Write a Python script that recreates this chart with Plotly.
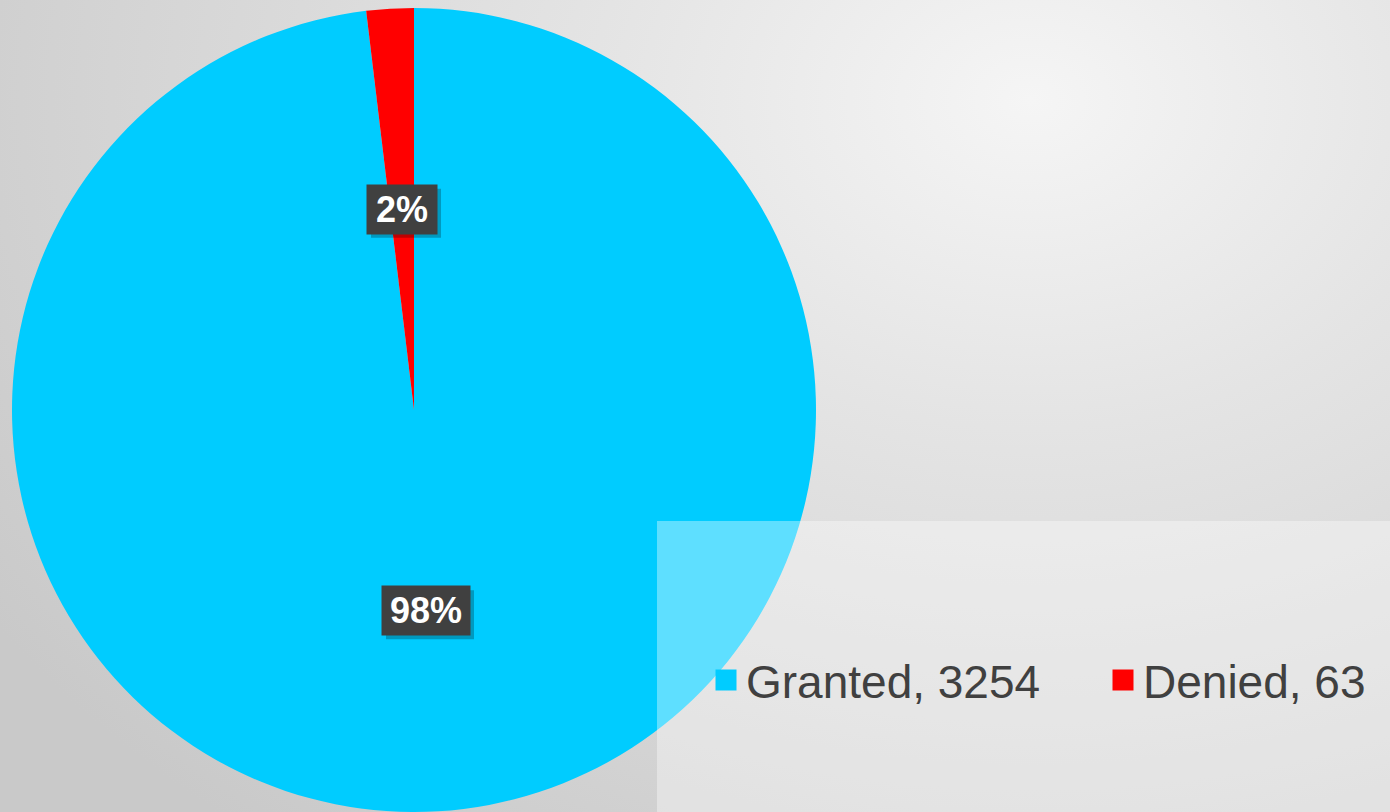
import math
import base64
import plotly.graph_objects as go

# ---- data ----
categories = ["Granted", "Denied"]
values = [3254, 63]
colors = ["#00CCFF", "#FF0000"]

W, H = 1390, 812

# pie geometry (pixels)
dom_x = [11 / W, 817 / W]
dom_y = [0.0, 1 - 8 / H]
cx_px = (dom_x[0] + dom_x[1]) / 2 * W
cy_px = H - (dom_y[0] + dom_y[1]) / 2 * H
r_px = min((dom_x[1] - dom_x[0]) * W, (dom_y[1] - dom_y[0]) * H) / 2

legend_labels = [f"{c}, {v}" for c, v in zip(categories, values)]

fig = go.Figure()
fig.add_trace(go.Pie(
    labels=legend_labels,
    values=values,
    marker=dict(colors=colors, line=dict(width=0)),
    sort=False,
    direction="clockwise",
    rotation=0,
    textinfo="none",
    domain=dict(x=dom_x, y=dom_y),
    showlegend=False,
))

# legend entries (larger square markers than the pie's fixed legend symbol)
for lab, col in zip(legend_labels, colors):
    fig.add_trace(go.Scatter(
        x=[None], y=[None], mode="markers", name=lab,
        marker=dict(symbol="square", size=18, color=col,
                    line=dict(width=6, color=col)),
        showlegend=True, hoverinfo="skip",
    ))

# percentage labels placed at mid-angle, half radius
total = sum(values)
cum = 0
annotations = []
shapes = []
for v in values:
    frac_mid = (cum + v / 2) / total
    cum += v
    th = 2 * math.pi * frac_mid
    px = cx_px + 0.5 * r_px * math.sin(th)
    py = cy_px - 0.5 * r_px * math.cos(th)
    txt = f"{round(100 * v / total)}%"
    bw = 34 + 18 * len(txt)
    bh = 49
    # soft shadow behind the label box
    shapes.append(dict(
        type="rect", xref="paper", yref="paper",
        x0=(px - bw / 2 + 4) / W, x1=(px + bw / 2 + 4) / W,
        y0=1 - (py + bh / 2 + 4) / H, y1=1 - (py - bh / 2 + 4) / H,
        fillcolor="rgba(0,0,0,0.25)", line=dict(width=0), layer="above",
    ))
    annotations.append(dict(
        x=px / W, y=1 - py / H, xref="paper", yref="paper",
        xanchor="center", yanchor="middle", showarrow=False,
        text=f"<b>{txt}</b>", width=bw, height=bh, borderpad=0,
        align="center", valign="middle",
        font=dict(family="Liberation Sans, Arial", size=36, color="white"),
        bgcolor="#404040",
    ))

# semi-transparent legend panel
shapes.append(dict(type="rect", xref="paper", yref="paper",
                   x0=657 / W, x1=1, y0=0, y1=1 - 521 / H,
                   fillcolor="rgba(255,255,255,0.37)", line=dict(width=0),
                   layer="above"))

# background radial gradient
svg = f'''<svg xmlns="http://www.w3.org/2000/svg" width="{W}" height="{H}" viewBox="0 0 {W} {H}">
<defs><radialGradient id="g" gradientUnits="userSpaceOnUse" cx="1030" cy="100" r="1250"
 gradientTransform="translate(1030 100) scale(1 0.75) translate(-1030 -100)">
<stop offset="0" stop-color="#f5f5f5"/><stop offset="0.35" stop-color="#e4e4e4"/>
<stop offset="1" stop-color="#c9c9c9"/></radialGradient></defs>
<rect width="{W}" height="{H}" fill="url(#g)"/></svg>'''
src = "data:image/svg+xml;base64," + base64.b64encode(svg.encode()).decode()

fig.update_layout(
    width=W, height=H,
    margin=dict(l=0, r=0, t=0, b=0, autoexpand=False),
    paper_bgcolor="#dcdcdc",
    plot_bgcolor="rgba(0,0,0,0)",
    xaxis=dict(visible=False),
    yaxis=dict(visible=False),
    images=[dict(source=src, xref="paper", yref="paper", x=0, y=1,
                 sizex=1, sizey=1, xanchor="left", yanchor="top",
                 sizing="stretch", layer="below")],
    shapes=shapes,
    legend=dict(
        orientation="h", x=706 / W, y=1 - 680 / H,
        xanchor="left", yanchor="middle",
        bgcolor="rgba(0,0,0,0)",
        font=dict(family="Liberation Sans, Arial", size=46, color="#404040"),
        entrywidth=352, entrywidthmode="pixels",
        itemsizing="trace",
    ),
    annotations=annotations,
)

fig.write_html("out.html", config={"displayModeBar": False},
               post_script="document.body.style.margin='0';")
